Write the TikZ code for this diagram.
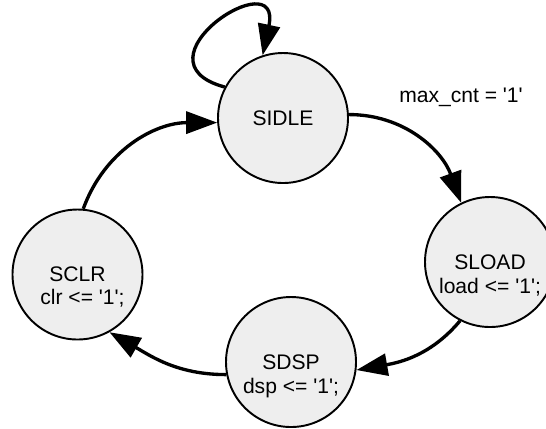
\documentclass[tikz,border=0pt]{standalone}
\usepackage{fontspec}
\setmainfont{Liberation Sans}[Ligatures=TeXOff]
\usetikzlibrary{positioning, arrows.meta, calc}
\definecolor{stategray}{RGB}{238,238,238}
\tikzset{
  state/.style={circle, draw, line width=1.1pt, fill=stategray, minimum size=2.6cm, inner sep=0pt, font=\fontsize{12}{14}\selectfont},
  action/.style={anchor=base, inner sep=0pt, font=\fontsize{12}{14}\selectfont},
  guard/.style={inner sep=0pt, font=\fontsize{12}{14}\selectfont},
  trans/.style={line width=1.9pt, -{Triangle[length=0.62cm, width=0.44cm]}},
}

\begin{document}
\begin{tikzpicture}
    \useasboundingbox (0,0) rectangle (10.92,-8.56);
    % states
    \node[state] (sidle) at (5.66,-2.36) {SIDLE};
    \node[state] (sload) at (9.8,-5.24) {SLOAD};
    \node[state] (sdsp) at (5.82,-7.24) {SDSP};
    \node[state] (sclr) at (1.55,-5.49) {SCLR};
    \node[action] (sloadact) at ([yshift=-0.63cm]sload.center) {load <= '1';};
    \node[action] (sdspact) at ([yshift=-0.63cm]sdsp.center) {dsp <= '1';};
    \node[action] (sclract) at ([xshift=0.1cm, yshift=-0.6cm]sclr.center) {clr <= '1';};
    % transitions
    \draw[trans] (sidle.152) .. controls +(165:2.0) and +(78:1.95) .. (sidle.108);
    \draw[trans] (sidle.3) to[out=0, in=110] (sload.116);
    \node[guard] (gmax) at (9.22,-1.94) {max\_cnt = '1'};
    \draw[trans] (sload.243) to[out=230, in=10] (sdsp.-7);
    \draw[trans] (sdsp.191) to[out=180, in=-30] (sclr.-61);
    \draw[trans] (sclr.85) to[out=70, in=180] (sidle.184);
\end{tikzpicture}
\end{document}
